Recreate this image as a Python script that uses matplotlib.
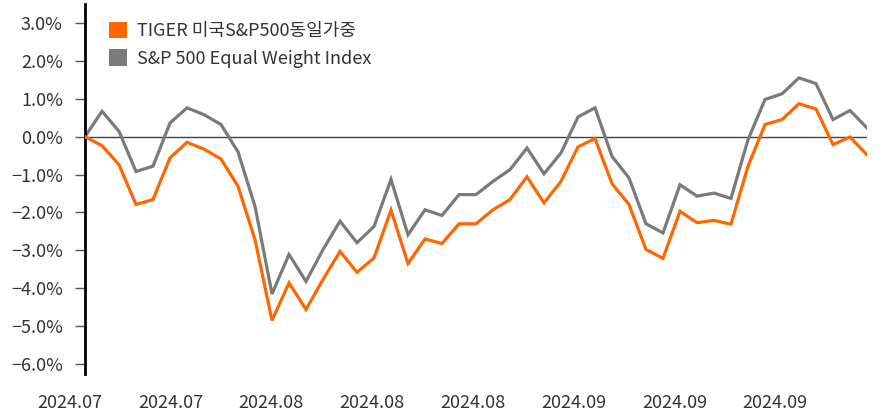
import numpy as np
import matplotlib
matplotlib.use("Agg")
import matplotlib.pyplot as plt
from matplotlib.patches import Patch

plt.rcParams['font.family'] = ['Noto Sans CJK KR', 'DejaVu Sans']

# -------------------------------
# Data (cumulative return, %)
# -------------------------------
tiger = [0, -0.24, -0.74, -1.79, -1.66, -0.56, -0.15, -0.33, -0.59, -1.31, -2.72,
         -4.85, -3.86, -4.56, -3.77, -3.03, -3.58, -3.20, -1.94, -3.35, -2.70, -2.82,
         -2.30, -2.30, -1.93, -1.66, -1.06, -1.75, -1.18, -0.27, -0.05, -1.24, -1.79,
         -2.98, -3.21, -1.97, -2.27, -2.21, -2.31, -0.78, 0.32, 0.45, 0.87, 0.73,
         -0.21, -0.01, -0.48]
index_ew = [0, 0.67, 0.14, -0.92, -0.78, 0.36, 0.76, 0.58, 0.32, -0.40, -1.84,
            -4.15, -3.11, -3.82, -2.98, -2.23, -2.80, -2.37, -1.13, -2.59, -1.93, -2.08,
            -1.53, -1.53, -1.18, -0.87, -0.30, -0.98, -0.43, 0.52, 0.76, -0.52, -1.09,
            -2.30, -2.54, -1.27, -1.57, -1.49, -1.63, -0.08, 0.98, 1.13, 1.55, 1.40,
            0.45, 0.69, 0.23]
x_labels = ["2024.07", "2024.07", "2024.08", "2024.08", "2024.08",
            "2024.09", "2024.09", "2024.09"]
y_ticks = [3, 2, 1, 0, -1, -2, -3, -4, -5, -6]
names = ["TIGER 미국S&P500동일가중", "S&P 500 Equal Weight Index"]

ORANGE = "#FF6600"
GRAY = "#7A7A7A"
TXT = "#333333"

x = np.arange(len(tiger))

fig = plt.figure(figsize=(8.92, 4.11), dpi=100)
ax = fig.add_axes([85 / 892, 1 - 373.5 / 411, (867 - 85) / 892, (373.5 - 4) / 411])

ax.axhline(0, color="#404040", lw=1.0, zorder=1)
ax.plot(x, index_ew, color=GRAY, lw=2.3, solid_joinstyle="miter", zorder=2)
ax.plot(x, tiger, color=ORANGE, lw=2.3, solid_joinstyle="miter", zorder=3)

ax.set_yticks(y_ticks)
ax.set_yticklabels([f"{v:.1f}%".replace("-", "\u2212") for v in y_ticks],
                   fontsize=13, color=TXT)
ax.tick_params(axis="y", direction="out", length=7, width=1, color="#555555", pad=9)

ax.set_xlim(0, len(tiger) - 1)
ax.set_ylim(-6.25, 3.5)

# category labels every ~6 points; the first one hangs left of the axis,
# so draw them as text (ticks outside the view limits get dropped)
ax.set_xticks([])
lab_pos = np.arange(len(x_labels)) * 5.93 - 0.9
tr = ax.get_xaxis_transform()
for p, lab in zip(lab_pos, x_labels):
    ax.text(p, -0.08, lab, transform=tr, ha="center", va="center",
            fontsize=13, color=TXT, clip_on=False)

for s in ["top", "right", "bottom"]:
    ax.spines[s].set_visible(False)
ax.spines["left"].set_linewidth(2)
ax.spines["left"].set_color("black")

handles = [Patch(facecolor=ORANGE, edgecolor="none"),
           Patch(facecolor=GRAY, edgecolor="none")]
ax.legend(handles, names, loc="upper left", bbox_to_anchor=(0.007, 1.0),
          frameon=False, fontsize=13, handlelength=1.0, handleheight=1.0,
          handletextpad=0.55, labelspacing=0.5, labelcolor=TXT, borderaxespad=0.6)

fig.savefig("out.png", dpi=100)
